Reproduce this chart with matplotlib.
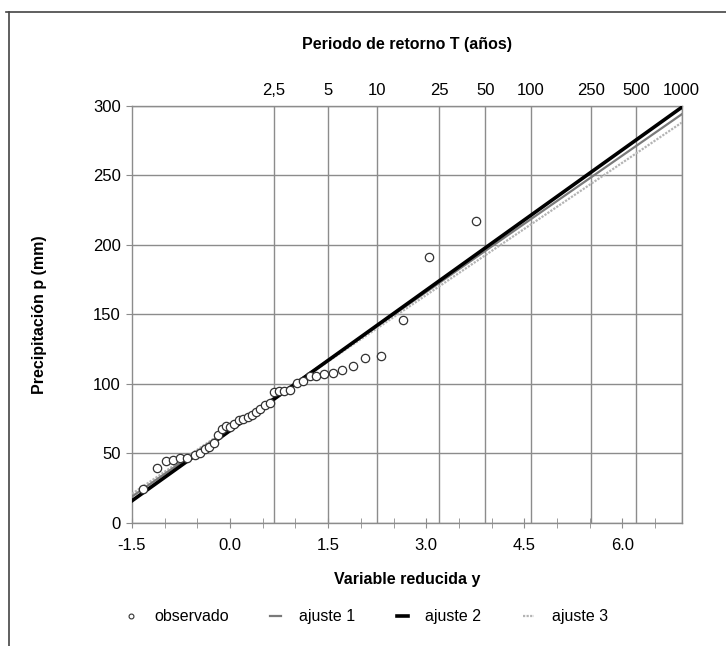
import numpy as np
import matplotlib.pyplot as plt
from matplotlib.lines import Line2D

plt.rcParams["font.family"] = ["Liberation Sans", "DejaVu Sans"]

# observed maxima (reduced variable y, precipitation mm)
obs_y = [-1.33, -1.12, -0.98, -0.87, -0.76, -0.66, -0.54, -0.46, -0.38, -0.32,
         -0.24, -0.19, -0.12, -0.06, 0.00, 0.06, 0.13, 0.20, 0.27, 0.33,
         0.39, 0.46, 0.54, 0.61, 0.67, 0.75, 0.83, 0.92, 1.02, 1.11,
         1.22, 1.32, 1.44, 1.57, 1.71, 1.88, 2.07, 2.31, 2.65, 3.05, 3.76]
obs_p = [24.5, 39.5, 44.5, 45, 47, 47, 49, 50.5, 53.5, 55,
         57.5, 63, 67.5, 69.5, 69, 71.5, 74, 75, 76, 78,
         80, 82, 85, 86, 94.5, 95, 95, 95.5, 100.5, 102,
         105.5, 106, 107, 108, 110, 113, 119, 120, 146, 191, 217]

# fitted lines (end points)
fit_y = [-1.5, 6.907]
fit1_p = [19, 294]
fit2_p = [16, 299]
fit3_p = [21, 288]

# return periods for the top axis
T_vals = [2.5, 5, 10, 25, 50, 100, 250, 500, 1000]
T_labels = ["2,5", "5", "10", "25", "50", "100", "250", "500", "1000"]

GRID = "#8c8c8c"

fig = plt.figure(figsize=(7.26, 6.46), dpi=100)
ax = fig.add_axes([0.1818, 0.1904, 0.7572, 0.6456])

ax.plot(fit_y, fit3_p, color="#b4b4b4", lw=1.6, ls=(0, (1, 0.6)), label="ajuste 3", zorder=3)
ax.plot(fit_y, fit1_p, color="#7a7a7a", lw=1.6, label="ajuste 1", zorder=4)
ax.plot(fit_y, fit2_p, color="black", lw=2.6, label="ajuste 2", zorder=5)
ax.plot(obs_y, obs_p, ls="none", marker="o", ms=6, mfc="white", mec="#333333",
        mew=0.9, label="observado", zorder=6)

ax.set_xlim(-1.5, 6.9075)
ax.set_ylim(0, 300)
ax.set_yticks(np.arange(0, 301, 50))
ax.set_xticks(np.arange(-1.5, 6.1, 1.5))
ax.set_xticklabels([f"{v:.1f}" for v in np.arange(-1.5, 6.1, 1.5)])
ax.set_xticks(np.arange(-1.5, 6.9, 0.5), minor=True)
ax.tick_params(axis="x", which="both", direction="inout", length=7, color=GRID,
               labelsize=12, pad=7)
ax.tick_params(axis="y", direction="out", length=4, color=GRID, labelsize=12, pad=4)
ax.grid(axis="y", color=GRID, lw=1)
for s in ax.spines.values():
    s.set_color(GRID)
    s.set_linewidth(1)

ax.set_xlabel("Variable reducida y", fontsize=11.5, fontweight="bold", labelpad=14)
ax.set_ylabel("Precipitación p (mm)", fontsize=11.5, fontweight="bold", labelpad=33)

# top axis: return period T
T_pos = [-np.log(-np.log(1 - 1 / t)) for t in T_vals]
for xp in T_pos:
    ax.axvline(xp, color=GRID, lw=1, zorder=1)
top = ax.secondary_xaxis("top")
top.set_xticks(T_pos)
top.set_xticklabels(T_labels)
top.tick_params(length=0, labelsize=12, pad=6)
top.spines["top"].set_visible(False)
top.set_xlabel("Periodo de retorno T (años)", fontsize=11.5, fontweight="bold", labelpad=24)

labels = ["observado", "ajuste 1", "ajuste 2", "ajuste 3"]
leg_handles = [Line2D([], [], ls="none", marker="o", ms=3.5, mfc="white", mec="#333333", mew=0.8),
               Line2D([], [], color="#7a7a7a", lw=1.6),
               Line2D([], [], color="black", lw=2.6),
               Line2D([], [], color="#b4b4b4", lw=1.6, ls=(0, (1, 0.6)))]
fig.legend(leg_handles, labels, loc="center",
           bbox_to_anchor=(0.505, 0.045), ncol=4, frameon=False, fontsize=11.5,
           handlelength=0.7, columnspacing=2.6, handletextpad=1.1)

# outer frame
fig.add_artist(Line2D([0.008, 1.0], [0.981, 0.981], color="#444444", lw=1.2))
fig.add_artist(Line2D([0.0125, 0.0125], [0.0, 0.981], color="#444444", lw=1.2))

fig.savefig("out.png", dpi=100)
